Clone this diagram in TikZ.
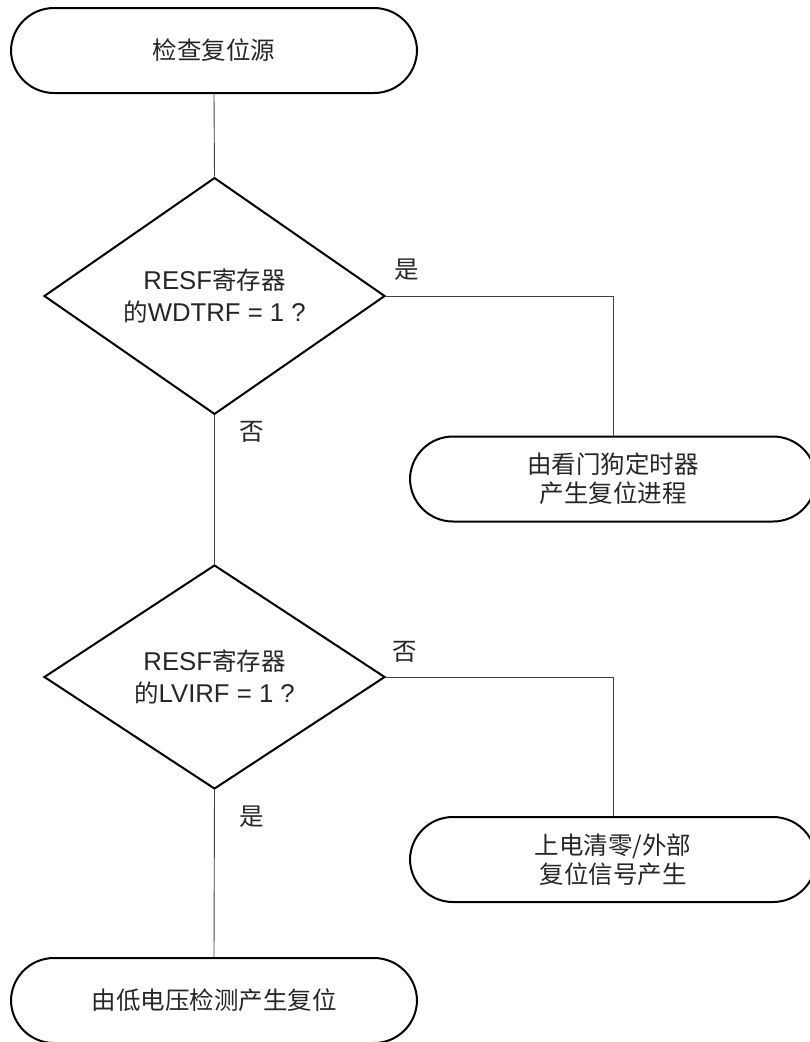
\documentclass[tikz,border=0pt]{standalone}
\usepackage{fontspec}
\setmainfont{Liberation Sans}[Scale=1.05]
\newfontfamily\cjk{Noto Sans CJK SC}
\newcommand{\zh}[1]{{\cjk #1}}
\usetikzlibrary{shapes.geometric}
\begin{document}
\begin{tikzpicture}[x=1pt,y=-1pt,
  every node/.style={font=\fontsize{24.5}{29}\selectfont, text=black!85},
  term/.style={draw=black, line width=2pt, rectangle, rounded corners=43pt,
    minimum width=406pt, minimum height=85pt, align=center, inner sep=0pt},
  deci/.style={draw=black, line width=2pt, diamond, minimum width=341pt,
    minimum height=224pt, inner sep=0pt, align=center,
    font=\fontsize{24.5}{32}\selectfont},
  conn/.style={draw=black!75, line width=0.9pt},
  lbl/.style={inner sep=0pt}]
\useasboundingbox (0,0) rectangle (809,1042);
\node[term] (start) at (214,50.5) {\zh{检查复位源}};
\node[deci] (d1) at (214.5,296) {RESF\zh{寄存器}\\\zh{的}WDTRF = 1 ?};
\node[term] (t1) at (613,479) {\zh{由看门狗定时器}\\\zh{产生复位进程}};
\node[deci] (d2) at (214.5,677) {RESF\zh{寄存器}\\\zh{的}LVIRF = 1 ?};
\node[term] (t2) at (613,859.5) {\zh{上电清零/外部}\\\zh{复位信号产生}};
\node[term] (t3) at (214,1000.5) {\zh{由低电压检测产生复位}};
\node[lbl] (y1) at (407,270) {\zh{是}};
\node[lbl] (n1) at (252,432) {\zh{否}};
\node[lbl] (n2) at (405,652) {\zh{否}};
\node[lbl] (y2) at (252,817) {\zh{是}};
\draw[conn] (start.south) -- (d1.north);
\draw[conn] (d1.east) -| (t1.north);
\draw[conn] (d1.south) -- (d2.north);
\draw[conn] (d2.east) -| (t2.north);
\draw[conn] (d2.south) -- (t3.north);
\end{tikzpicture}
\end{document}
